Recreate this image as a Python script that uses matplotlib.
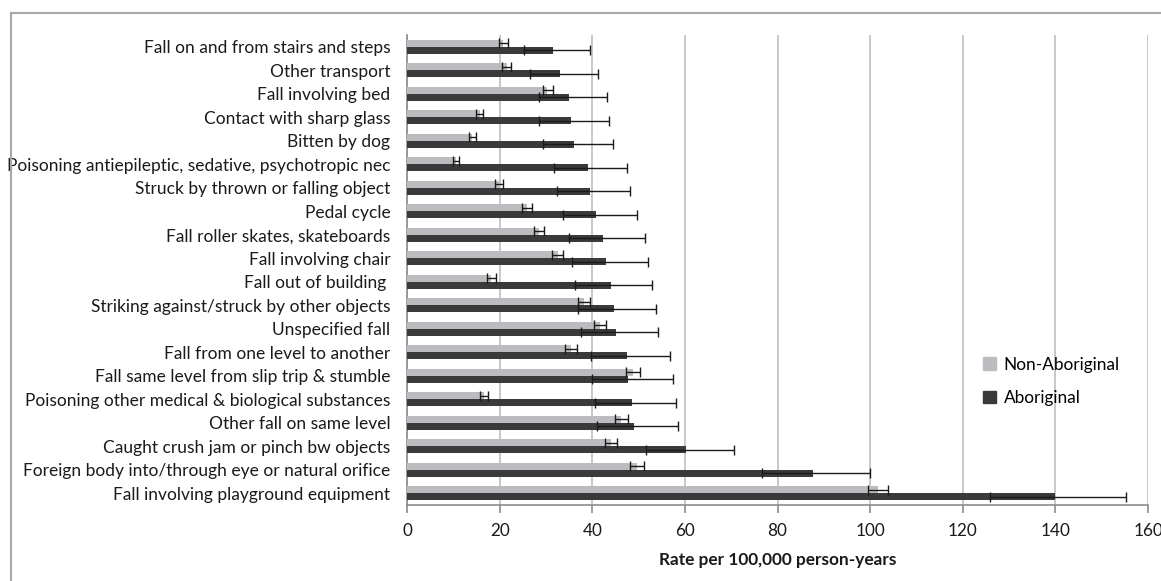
import matplotlib.pyplot as plt
from matplotlib.lines import Line2D
from matplotlib.patches import Patch
import numpy as np

plt.rcParams['font.family'] = ['Lato', 'DejaVu Sans']

causes = [
    'Fall on and from stairs and steps',
    'Other transport',
    'Fall involving bed',
    'Contact with sharp glass',
    'Bitten by dog',
    'Poisoning antiepileptic, sedative, psychotropic nec',
    'Struck by thrown or falling object',
    'Pedal cycle',
    'Fall roller skates, skateboards',
    'Fall involving chair',
    'Fall out of building ',
    'Striking against/struck by other objects',
    'Unspecified fall',
    'Fall from one level to another',
    'Fall same level from slip trip & stumble',
    'Poisoning other medical & biological substances',
    'Other fall on same level',
    'Caught crush jam or pinch bw objects',
    'Foreign body into/through eye or natural orifice',
    'Fall involving playground equipment',
]

# rates per 100,000 person-years with 95% CI bounds
non_abor_rate = [20.8, 21.5, 30.3, 15.7, 14.0, 10.6, 19.9, 26.0, 28.5, 32.5,
                 18.2, 38.2, 41.6, 35.4, 48.8, 16.6, 46.3, 44.1, 49.6, 101.6]
non_abor_lo = [19.9, 20.6, 29.3, 14.9, 13.3, 10.0, 19.0, 24.9, 27.5, 31.3,
               17.2, 36.9, 40.3, 34.1, 47.3, 15.8, 45.0, 42.8, 48.1, 99.5]
non_abor_hi = [21.8, 22.5, 31.5, 16.5, 14.8, 11.3, 20.8, 27.0, 29.6, 33.7,
               19.2, 39.4, 43.0, 36.8, 50.4, 17.4, 47.7, 45.4, 51.1, 103.8]

abor_rate = [31.5, 33.0, 35.0, 35.4, 36.1, 39.0, 39.6, 40.9, 42.3, 43.0,
             44.0, 44.7, 45.2, 47.4, 47.8, 48.5, 49.0, 60.2, 87.6, 139.9]
abor_lo = [25.2, 26.5, 28.4, 28.6, 29.3, 31.8, 32.4, 33.7, 34.9, 35.6,
           36.3, 37.0, 37.5, 39.7, 39.9, 40.5, 41.0, 51.5, 76.7, 125.9]
abor_hi = [39.4, 41.2, 43.2, 43.7, 44.4, 47.5, 48.2, 49.7, 51.3, 52.0,
           53.0, 53.8, 54.2, 56.8, 57.4, 58.0, 58.5, 70.6, 100.0, 155.3]

light = '#bcbcc0'
dark = '#3a3a3a'

fig = plt.figure(figsize=(11.61, 5.81), dpi=100)
ax = fig.add_axes([0.3506, 0.1308, 0.9888 - 0.3506, 0.9398 - 0.1308])

y = np.arange(len(causes))
h = 0.3

na = np.array(non_abor_rate)
ab = np.array(abor_rate)
na_err = [na - np.array(non_abor_lo), np.array(non_abor_hi) - na]
ab_err = [ab - np.array(abor_lo), np.array(abor_hi) - ab]

ekw = dict(ecolor='#1a1a1a', elinewidth=1.0, capsize=3.5, capthick=1.0)
ax.barh(y - h / 2, na, height=h, color=light, xerr=na_err, error_kw=ekw,
        label='Non-Aboriginal', zorder=3)
ax.barh(y + h / 2, ab, height=h, color=dark, xerr=ab_err, error_kw=ekw,
        label='Aboriginal', zorder=3)

ax.set_ylim(len(causes) - 0.5, -0.5)
ax.set_xlim(0, 160)
ax.set_xticks(np.arange(0, 161, 20))
ax.set_yticks(y)
ax.set_yticklabels(causes, fontsize=12.5, color='#1a1a1a')
ax.tick_params(axis='y', length=0, pad=12)
ax.tick_params(axis='x', length=6, width=1.2, color='#8c8c8c', labelsize=12.3,
               labelcolor='#1a1a1a', pad=7)
ax.xaxis.grid(True, color='#c8c8c8', linewidth=1.4, zorder=0)
ax.set_axisbelow(True)

for side in ['top', 'right']:
    ax.spines[side].set_visible(False)
for side in ['left', 'bottom']:
    ax.spines[side].set_color('#8c8c8c')
    ax.spines[side].set_linewidth(1.2)

ax.set_xlabel('Rate per 100,000 person-years', fontsize=12.4, fontweight='bold',
              color='#1a1a1a', labelpad=9)

handles = [Patch(color=light), Patch(color=dark)]
ax.legend(handles, ['Non-Aboriginal', 'Aboriginal'], loc='upper left',
          bbox_to_anchor=(0.768, 0.33), frameon=False, fontsize=12.4,
          handlelength=0.75, handleheight=0.75, handletextpad=0.45,
          labelspacing=1.0, borderaxespad=0)

# outer chart border
fig.add_artist(Line2D([11 / 1161, 1], [1 - 13 / 581, 1 - 13 / 581],
                      color='#a8a8a8', linewidth=1.5))
fig.add_artist(Line2D([11 / 1161, 11 / 1161], [0, 1 - 13 / 581],
                      color='#a8a8a8', linewidth=1.5))

fig.savefig('out.png', dpi=100)
